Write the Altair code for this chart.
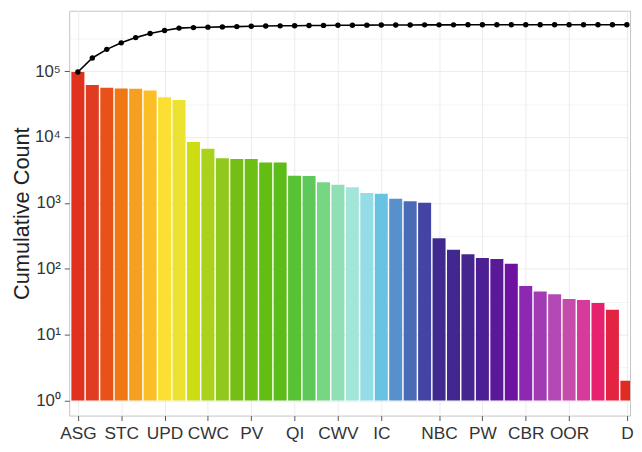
import altair as alt
import pandas as pd

# ---- data ----
ranks = list(range(1, 40))
counts = [97300, 61500, 56000, 54700, 54100, 51000, 40100, 36600, 8400, 6650,
          4770, 4660, 4660, 4100, 4100, 2590, 2570, 2060, 1880, 1730,
          1410, 1380, 1160, 1060, 1010, 292, 195, 166, 146, 141,
          119, 54.8, 45.2, 41.2, 34.7, 33.5, 30.2, 23.9, 2.0]
palette = ["#e0301e", "#e03c22", "#e8521a", "#f07814", "#f5a020", "#fbbe26",
           "#fbe032", "#eee230", "#cedc12", "#aad21a", "#90c81c", "#74be16",
           "#6cc014", "#62be12", "#5cbc1a", "#58c234", "#5ec85a", "#76d682",
           "#90e0b6", "#a2e6da", "#94dce6", "#68c2e2", "#5890cc", "#4a6cb6",
           "#4444a4", "#402a92", "#42288e", "#44268e", "#4c2092", "#5a1a98",
           "#6e12a2", "#8c28b2", "#a23ab4", "#b448b6", "#c64cac", "#d63a9a",
           "#e6226e", "#e22442", "#e02a22"]
tick_positions = [1, 4, 7, 10, 13, 16, 19, 22, 26, 29, 32, 35, 39]
tick_labels = ["ASG", "STC", "UPD", "CWC", "PV", "QI", "CWV", "IC",
               "NBC", "PW", "CBR", "OOR", "D"]

df = pd.DataFrame({"rank": ranks, "count": counts})

# label lookup for the x axis
lab_arr = [""] * 41
for p, n in zip(tick_positions, tick_labels):
    lab_arr[p] = n
x_label_expr = "[" + ",".join("'" + s + "'" for s in lab_arr) + "][datum.value]"

decades = [10 ** k for k in range(0, 6)]
halves = [10 ** (k + 0.5) for k in range(0, 6)]
y_values = sorted(decades + halves)
is_minor = "abs(log(datum.value)/LN10 - round(log(datum.value)/LN10)) > 0.01"
y_label_expr = ("(" + is_minor + ") ? '' : '10' + ['⁰','¹','²','³','⁴','⁵','⁶']"
                "[round(log(datum.value)/LN10)]")

FONT = "Liberation Sans"

x_scale = alt.Scale(domain=[0.4, 39.22], nice=False, zero=False)
x_axis = alt.Axis(values=tick_positions, labelExpr=x_label_expr, title=None,
                  grid=True, gridColor="#ececec", domain=False,
                  tickSize=5, tickColor="#555555", labelFont=FONT,
                  labelFontSize=17.5, labelColor="#333333", labelPadding=4,
                  labelOverlap=False, labelFlush=False)
y_scale = alt.Scale(type="log", domain=[0.59, 828000], nice=False)
y_axis = alt.Axis(values=y_values, labelExpr=y_label_expr,
                  title="Cumulative Count", grid=True, gridColor="#ececec",
                  gridWidth={"condition": {"test": is_minor, "value": 0.6}, "value": 1},
                  tickOpacity={"condition": {"test": is_minor, "value": 0}, "value": 1},
                  domain=False, tickSize=5, tickColor="#555555",
                  labelFont=FONT, labelFontSize=17, labelColor="#333333",
                  labelPadding=4, titleFont=FONT, titleFontSize=22,
                  titleFontWeight="normal", titleColor="#222222",
                  titleX=-48, titleY=205, titleBaseline="middle",
                  titleAngle=270)

base = alt.Chart(df)

bars = base.mark_bar(clip=True).transform_calculate(
    lo="datum.rank - 0.45", hi="datum.rank + 0.45"
).encode(
    x=alt.X("lo:Q", scale=x_scale, axis=x_axis),
    x2="hi:Q",
    y=alt.Y("count:Q", scale=y_scale, axis=y_axis),
    y2=alt.datum(1),
    color=alt.Color("rank:O", scale=alt.Scale(domain=ranks, range=palette), legend=None),
)

cum = base.transform_window(
    cum="sum(count)", sort=[alt.SortField("rank")], frame=[None, 0]
)
line = cum.mark_line(color="black", strokeWidth=1.6, clip=True).encode(
    x=alt.X("rank:Q", scale=x_scale, axis=x_axis),
    y=alt.Y("cum:Q", scale=y_scale, axis=y_axis),
)
pts = cum.mark_point(filled=True, color="black", size=30, opacity=1, clip=True).encode(
    x=alt.X("rank:Q", scale=x_scale, axis=x_axis),
    y=alt.Y("cum:Q", scale=y_scale, axis=y_axis),
)

chart = alt.layer(bars, line, pts).properties(
    width=568, height=410,
    padding={"left": 62, "top": 0, "right": 4, "bottom": 26},
    autosize=alt.AutoSizeParams(type="none"),
    background="white",
).configure_view(stroke="#c4c4c4", strokeWidth=1)

chart.save("out.html", embed_options={"renderer": "svg", "actions": False})
